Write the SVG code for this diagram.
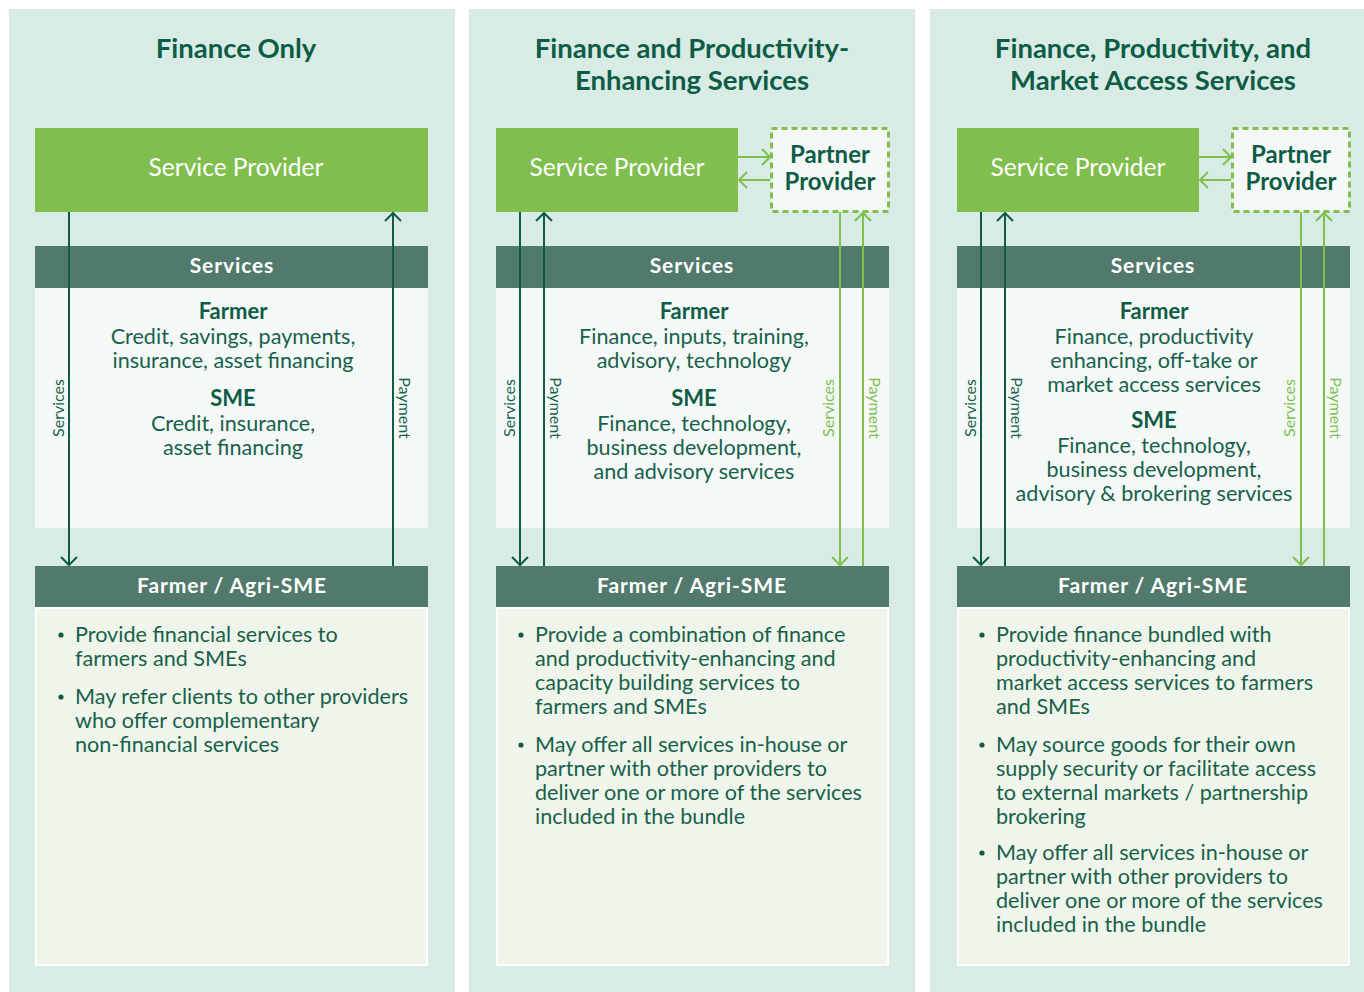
<svg xmlns="http://www.w3.org/2000/svg" width="1364" height="992" viewBox="0 0 1364 992">
<style>
.panel{fill:#d8ece5}
.sp{fill:#80bf4e}
.hdr{fill:#527a6c}
.svc{fill:#f4f9f7}
.body{fill:#eff5ea;stroke:#ffffff;stroke-width:2}
.partner{fill:#f4f9f7;stroke:#80bf4e;stroke-width:3;stroke-dasharray:6 4}
text{font-family:Lato,"Noto Sans",sans-serif}
.title{font-size:27.5px;font-weight:700;fill:#0e5c45;text-anchor:middle}
.spt{font-size:24.5px;fill:#ffffff;text-anchor:middle}
.ppt{font-size:24px;font-weight:700;fill:#0e5c45;text-anchor:middle}
.ht{font-size:21px;font-weight:700;fill:#ffffff;text-anchor:middle;letter-spacing:0.9px}
.sh{font-size:22px;font-weight:700;fill:#0e5c45;text-anchor:middle}
.st{font-size:21.6px;fill:#17614b;text-anchor:middle}
.bt{font-size:21.6px;fill:#17614b}
.rl{font-size:16px;fill:#17614b;text-anchor:middle}
.rg{font-size:16px;fill:#80bf4e;text-anchor:middle}
.dk{stroke:#0e5c45;stroke-width:2;fill:none}
.lg{stroke:#80bf4e;stroke-width:2;fill:none}
.dot{fill:#0e5c45}
</style>
<defs>
<marker id="ad" viewBox="0 0 20 20" refX="10" refY="10" markerWidth="20" markerHeight="20" markerUnits="userSpaceOnUse" orient="auto">
<path d="M2 2 L10 10 L2 18" fill="none" stroke="#0e5c45" stroke-width="2"/>
</marker>
<marker id="ag" viewBox="0 0 20 20" refX="10" refY="10" markerWidth="20" markerHeight="20" markerUnits="userSpaceOnUse" orient="auto">
<path d="M2 2 L10 10 L2 18" fill="none" stroke="#80bf4e" stroke-width="2"/>
</marker>
</defs>
<rect x="0" y="0" width="1364" height="992" fill="#ffffff"/>

<g id="panel1">
<rect class="panel" x="9" y="9" width="446" height="983"/>
<text class="title" x="236" y="58">Finance Only</text>
<g id="sp1"><rect class="sp" x="35" y="128" width="393" height="84"/><text class="spt" x="236" y="176">Service Provider</text></g>
<g id="services1">
<rect class="hdr" x="35" y="246" width="393" height="42"/><text class="ht" x="232" y="273">Services</text>
<rect class="svc" x="35" y="288" width="393" height="240"/>
<text class="sh" x="233" y="319">Farmer</text>
<text class="st" x="233" y="344">Credit, savings, payments,</text>
<text class="st" x="233" y="368">insurance, asset financing</text>
<text class="sh" x="233" y="406">SME</text>
<text class="st" x="233" y="431">Credit, insurance,</text>
<text class="st" x="233" y="455">asset financing</text>
</g>
<g id="farmer1">
<rect class="hdr" x="35" y="566" width="393" height="42"/><text class="ht" x="232" y="593">Farmer / Agri-SME</text>
<rect class="body" x="36" y="608" width="391" height="357"/>
<circle class="dot" cx="61" cy="635" r="2.6"/>
<text class="bt" x="75" y="642">Provide financial services to</text>
<text class="bt" x="75" y="666">farmers and SMEs</text>
<circle class="dot" cx="61" cy="697" r="2.6"/>
<text class="bt" x="75" y="704">May refer clients to other providers</text>
<text class="bt" x="75" y="728">who offer complementary</text>
<text class="bt" x="75" y="752">non-financial services</text>
</g>
</g>

<g id="panel2">
<rect class="panel" x="469" y="9" width="446" height="983"/>
<text class="title" x="692" y="58">Finance and Productivity-</text>
<text class="title" x="692" y="90">Enhancing Services</text>
<g id="sp2"><rect class="sp" x="496" y="128" width="242" height="84"/><text class="spt" x="617" y="176">Service Provider</text></g>
<g id="pp2"><rect class="partner" x="771.5" y="128.5" width="117" height="83"/><text class="ppt" x="830" y="163">Partner</text><text class="ppt" x="830" y="190">Provider</text></g>
<g id="services2">
<rect class="hdr" x="496" y="246" width="393" height="42"/><text class="ht" x="692" y="273">Services</text>
<rect class="svc" x="496" y="288" width="393" height="240"/>
<text class="sh" x="694" y="319">Farmer</text>
<text class="st" x="694" y="344">Finance, inputs, training,</text>
<text class="st" x="694" y="368">advisory, technology</text>
<text class="sh" x="694" y="406">SME</text>
<text class="st" x="694" y="431">Finance, technology,</text>
<text class="st" x="694" y="455">business development,</text>
<text class="st" x="694" y="479">and advisory services</text>
</g>
<g id="farmer2">
<rect class="hdr" x="496" y="566" width="393" height="42"/><text class="ht" x="692" y="593">Farmer / Agri-SME</text>
<rect class="body" x="497" y="608" width="391" height="357"/>
<circle class="dot" cx="521" cy="635" r="2.6"/>
<text class="bt" x="535" y="642">Provide a combination of finance</text>
<text class="bt" x="535" y="666">and productivity-enhancing and</text>
<text class="bt" x="535" y="690">capacity building services to</text>
<text class="bt" x="535" y="714">farmers and SMEs</text>
<circle class="dot" cx="521" cy="745" r="2.6"/>
<text class="bt" x="535" y="752">May offer all services in-house or</text>
<text class="bt" x="535" y="776">partner with other providers to</text>
<text class="bt" x="535" y="800">deliver one or more of the services</text>
<text class="bt" x="535" y="824">included in the bundle</text>
</g>
</g>

<g id="panel3">
<rect class="panel" x="930" y="9" width="434" height="983"/>
<text class="title" x="1153" y="58">Finance, Productivity, and</text>
<text class="title" x="1153" y="90">Market Access Services</text>
<g id="sp3"><rect class="sp" x="957" y="128" width="242" height="84"/><text class="spt" x="1078" y="176">Service Provider</text></g>
<g id="pp3"><rect class="partner" x="1232.5" y="128.5" width="117" height="83"/><text class="ppt" x="1291" y="163">Partner</text><text class="ppt" x="1291" y="190">Provider</text></g>
<g id="services3">
<rect class="hdr" x="957" y="246" width="393" height="42"/><text class="ht" x="1153" y="273">Services</text>
<rect class="svc" x="957" y="288" width="393" height="240"/>
<text class="sh" x="1154" y="319">Farmer</text>
<text class="st" x="1154" y="344">Finance, productivity</text>
<text class="st" x="1154" y="368">enhancing, off-take or</text>
<text class="st" x="1154" y="392">market access services</text>
<text class="sh" x="1154" y="428">SME</text>
<text class="st" x="1154" y="453">Finance, technology,</text>
<text class="st" x="1154" y="477">business development,</text>
<text class="st" x="1154" y="501">advisory &amp; brokering services</text>
</g>
<g id="farmer3">
<rect class="hdr" x="957" y="566" width="393" height="42"/><text class="ht" x="1153" y="593">Farmer / Agri-SME</text>
<rect class="body" x="958" y="608" width="391" height="357"/>
<circle class="dot" cx="982" cy="635" r="2.6"/>
<text class="bt" x="996" y="642">Provide finance bundled with</text>
<text class="bt" x="996" y="666">productivity-enhancing and</text>
<text class="bt" x="996" y="690">market access services to farmers</text>
<text class="bt" x="996" y="714">and SMEs</text>
<circle class="dot" cx="982" cy="745" r="2.6"/>
<text class="bt" x="996" y="752">May source goods for their own</text>
<text class="bt" x="996" y="776">supply security or facilitate access</text>
<text class="bt" x="996" y="800">to external markets / partnership</text>
<text class="bt" x="996" y="824">brokering</text>
<circle class="dot" cx="982" cy="853" r="2.6"/>
<text class="bt" x="996" y="860">May offer all services in-house or</text>
<text class="bt" x="996" y="884">partner with other providers to</text>
<text class="bt" x="996" y="908">deliver one or more of the services</text>
<text class="bt" x="996" y="932">included in the bundle</text>
</g>
</g>

<g id="connectors">
<line class="dk" x1="69" y1="212" x2="69" y2="565" marker-end="url(#ad)"/>
<line class="dk" x1="393" y1="566" x2="393" y2="213" marker-end="url(#ad)"/>
<text class="rl" transform="translate(64,408) rotate(-90)">Services</text>
<text class="rl" transform="translate(399,408) rotate(90)">Payment</text>

<line class="dk" x1="520" y1="212" x2="520" y2="565" marker-end="url(#ad)"/>
<line class="dk" x1="544" y1="566" x2="544" y2="213" marker-end="url(#ad)"/>
<line class="lg" x1="840" y1="212" x2="840" y2="565" marker-end="url(#ag)"/>
<line class="lg" x1="863" y1="566" x2="863" y2="213" marker-end="url(#ag)"/>
<line class="lg" x1="738" y1="157" x2="770" y2="157" marker-end="url(#ag)"/>
<line class="lg" x1="770" y1="180" x2="739" y2="180" marker-end="url(#ag)"/>
<text class="rl" transform="translate(515,408) rotate(-90)">Services</text>
<text class="rl" transform="translate(550,408) rotate(90)">Payment</text>
<text class="rg" transform="translate(834,408) rotate(-90)">Services</text>
<text class="rg" transform="translate(869,408) rotate(90)">Payment</text>

<line class="dk" x1="981" y1="212" x2="981" y2="565" marker-end="url(#ad)"/>
<line class="dk" x1="1005" y1="566" x2="1005" y2="213" marker-end="url(#ad)"/>
<line class="lg" x1="1301" y1="212" x2="1301" y2="565" marker-end="url(#ag)"/>
<line class="lg" x1="1324" y1="566" x2="1324" y2="213" marker-end="url(#ag)"/>
<line class="lg" x1="1199" y1="157" x2="1231" y2="157" marker-end="url(#ag)"/>
<line class="lg" x1="1231" y1="180" x2="1200" y2="180" marker-end="url(#ag)"/>
<text class="rl" transform="translate(976,408) rotate(-90)">Services</text>
<text class="rl" transform="translate(1011,408) rotate(90)">Payment</text>
<text class="rg" transform="translate(1295,408) rotate(-90)">Services</text>
<text class="rg" transform="translate(1330,408) rotate(90)">Payment</text>
</g>
</svg>
